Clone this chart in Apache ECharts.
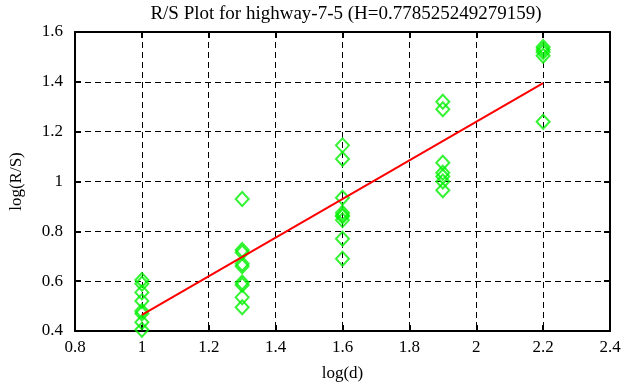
<!DOCTYPE html>
<html><head><meta charset="utf-8">
<script src="https://cdn.jsdelivr.net/npm/echarts@6/dist/echarts.min.js"></script>
<style>html,body{margin:0;padding:0;background:#fff}#c{width:626px;height:387px}</style>
</head><body><div id="c"></div>
<script>
const titleText = "R/S Plot for highway-7-5 (H=0.778525249279159)";
const xName = "log(d)";
const yName = "log(R/S)";
const xTicks = [0.8, 2.4, 0.2];
const yTicks = [0.4, 1.6, 0.2];
const logD = [1.0, 1.3, 1.6, 1.9, 2.2];
const rsAt1_0 = [0.605, 0.59, 0.555, 0.52, 0.48, 0.47, 0.435, 0.405];
const rsAt1_3 = [0.93, 0.725, 0.715, 0.67, 0.66, 0.595, 0.585, 0.535, 0.495];
const rsAt1_6 = [1.145, 1.09, 0.935, 0.875, 0.865, 0.86, 0.845, 0.77, 0.69];
const rsAt1_9 = [1.32, 1.29, 1.075, 1.035, 1.02, 1.0, 0.965];
const rsAt2_2 = [1.54, 1.53, 1.52, 1.505, 1.24];
const fitX = [1.0, 2.2];
const fitY = [0.465, 1.395];

const groups = [rsAt1_0, rsAt1_3, rsAt1_6, rsAt1_9, rsAt2_2];
const pts = [];
groups.forEach((g, i) => g.forEach(v => pts.push([logD[i], v])));
const fit = fitX.map((x, i) => [x, fitY[i]]);

const font = "'Liberation Serif', 'DejaVu Serif', serif";
const lab = {fontFamily: font, fontSize: 17, color: '#000'};
function xAx(pos, showLabel, name) {
  return {type: 'value', position: pos, min: xTicks[0], max: xTicks[1], interval: xTicks[2],
    name: name, nameLocation: 'middle', nameGap: 34, nameTextStyle: lab,
    axisLine: {show: true, onZero: false, lineStyle: {color: '#000', width: 2}},
    axisTick: {show: true, inside: true, length: 6, lineStyle: {color: '#000', width: 2}},
    axisLabel: {show: showLabel, ...lab, margin: 8, formatter: v => String(+v.toFixed(1))},
    splitLine: {show: showLabel, lineStyle: {color: '#000', type: [6, 4], width: 1}}};
}
function yAx(pos, showLabel, name) {
  return {type: 'value', position: pos, min: yTicks[0], max: yTicks[1], interval: yTicks[2],
    name: name, nameLocation: 'middle', nameGap: 50, nameTextStyle: lab,
    axisLine: {show: true, onZero: false, lineStyle: {color: '#000', width: 2}},
    axisTick: {show: true, inside: true, length: 6, lineStyle: {color: '#000', width: 2}},
    axisLabel: {show: showLabel, ...lab, margin: 12, formatter: v => String(+v.toFixed(1))},
    splitLine: {show: showLabel, lineStyle: {color: '#000', type: [6, 4], width: 1}}};
}
const chart = echarts.init(document.getElementById('c'), null, {renderer: 'canvas'});
chart.setOption({
  animation: false,
  backgroundColor: '#fff',
  title: {text: titleText, left: 341, textAlign: 'center', top: 0, textStyle: {...lab, fontSize: 19, fontWeight: 'normal'}},
  grid: {left: 72, right: 16, top: 32, bottom: 56, containLabel: false},
  xAxis: [xAx('bottom', true, xName), xAx('top', false, '')],
  yAxis: [yAx('left', true, yName), yAx('right', false, '')],
  series: [
    {type: 'scatter', data: pts, symbol: 'diamond', symbolSize: [13, 14],
     itemStyle: {color: 'rgba(0,0,0,0)', borderColor: '#00f000', borderWidth: 2}, z: 3},
    {type: 'line', data: fit, symbol: 'none', lineStyle: {color: '#ff0000', width: 2}, z: 4}
  ]
});
</script></body></html>
